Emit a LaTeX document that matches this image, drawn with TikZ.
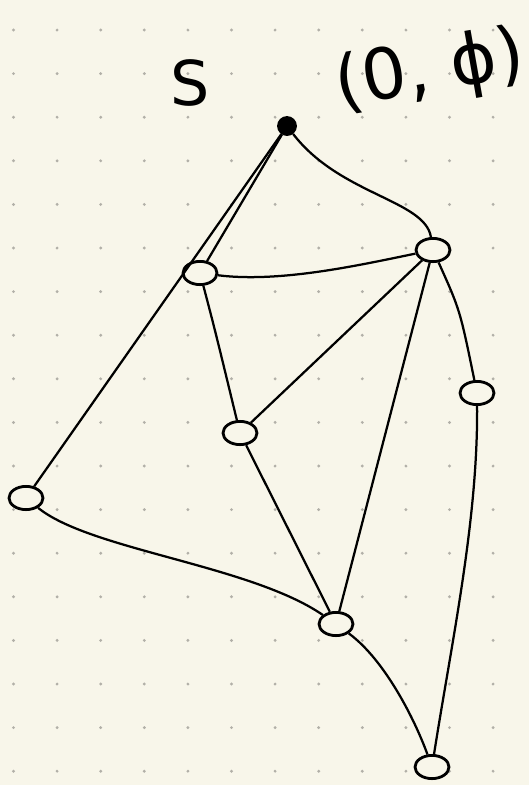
\documentclass[tikz,border=0pt]{standalone}
\usepackage{xcolor}
\usepackage{amsmath}
\usepackage{fontspec}
\usepackage{tikz}
\usetikzlibrary{shapes.geometric}
\newfontfamily\handfont{DejaVu Sans}
\definecolor{paper}{RGB}{248, 246, 234}
\definecolor{griddot}{RGB}{178, 176, 168}

\begin{document}
\begin{tikzpicture}[x=0.025cm, y=-0.025cm,
    line width=1.6pt,
    vtx/.style={draw, ellipse, line width=2pt, minimum width=0.85cm, minimum height=0.58cm, inner sep=0pt},
    src/.style={draw, circle, fill=black, minimum size=0.44cm, inner sep=0pt},
    hand/.style={font=\handfont\fontsize{44}{44}\selectfont}
]
\fill[paper] (0,0) rectangle (529,785);
\useasboundingbox (0,0) rectangle (529,785);
% dotted paper
\foreach \i in {0,...,11}
  \foreach \j in {0,...,17}
    \fill[griddot] (13.5+43.6*\i, 30+43.6*\j) circle (1.6);

\node[hand] (slabel) at (190,83) {S};
\node[hand, rotate=10, font=\handfont\fontsize{50}{50}\selectfont] (dlabel) at (430,72) {(0, ϕ)};

\node[src] (s) at (287,126) {};
\node[vtx] (a) at (200,273) {};
\node[vtx] (b) at (433,250) {};
\node[vtx] (c) at (240,433) {};
\node[vtx] (d) at (477,393) {};
\node[vtx] (e) at (26,498) {};
\node[vtx] (f) at (336,624) {};
\node[vtx] (g) at (432,767) {};

\draw (s) -- (a);
\draw (s) -- (e);
\draw (s) .. controls (340,195) and (425,200) .. (b);
\draw (a) .. controls (280,283) and (360,265) .. (b);
\draw (a) .. controls (215,330) .. (c);
\draw (b) -- (c);
\draw (b) -- (f);
\draw (c) -- (f);
\draw (b) .. controls (460,310) .. (d);
\draw (d) .. controls (478,520) and (452,640) .. (g);
\draw (e) .. controls (90,550) and (250,565) .. (f);
\draw (f) .. controls (385,660) and (415,720) .. (g);
\end{tikzpicture}
\end{document}
